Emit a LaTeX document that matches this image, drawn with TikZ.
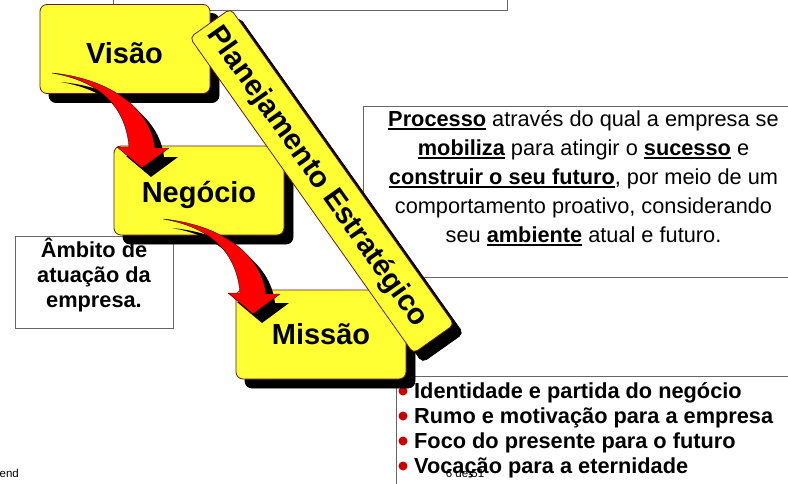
\documentclass[tikz,border=0pt]{standalone}
\usepackage{fontspec}
\setmainfont{Liberation Sans}
\definecolor{boxy}{HTML}{FFFF33}
\definecolor{boxedge}{HTML}{661A1A}
\definecolor{linegray}{HTML}{666666}
\definecolor{bulletred}{HTML}{CC0000}
\newsavebox\ulbox
\newcommand\ulb[1]{\sbox\ulbox{\bfseries #1}\leavevmode\rlap{\rule[-4.2pt]{\wd\ulbox}{2.4pt}}\usebox\ulbox}
\newcommand\swoosh[1]{%
  \begin{scope}[shift={(#1)}]
    \fill[black] (9,9) .. controls (62,14) and (107,41) .. (112,84) -- (126,84) -- (99,104) -- (74,83) -- (86,83) .. controls (82,36) and (49,16) .. (9,9) -- cycle;
    \draw[fill=red,draw=black,line width=.3pt] (0,0) .. controls (53,5) and (98,32) .. (103,75) -- (117,75) -- (90,95) -- (65,74) -- (77,74) .. controls (73,27) and (40,7) .. (0,0) -- cycle;
  \end{scope}}
\tikzset{
  x=1pt,y=-1pt,
  paper/.style={draw=linegray,line width=1pt,fill=white},
  card/.style={draw=boxedge,line width=.8pt,fill=boxy,rounded corners=7pt,minimum width=170pt,minimum height=89pt,inner sep=0pt},
  cardshadow/.style={card,draw=black,fill=black},
  banner/.style={draw=boxedge,line width=.8pt,fill=boxy,rounded corners=5pt,minimum width=387pt,minimum height=50pt,inner sep=0pt,rotate=-54.7},
  bannershadow/.style={banner,draw=black,fill=black},
  title/.style={font=\fontsize{29}{31}\selectfont\bfseries,anchor=base},
  bul/.style={circle,fill=bulletred,minimum size=9pt,inner sep=0pt},
  bultext/.style={font=\fontsize{21.75}{24}\selectfont\bfseries,anchor=base west,inner sep=0pt},
  foot/.style={font=\fontsize{11.5}{12}\selectfont,anchor=base,inner sep=0pt}
}
\begin{document}
\begin{tikzpicture}
\useasboundingbox (0,0) rectangle (788,483);
\clip (0,0) rectangle (788,483);
\fill[white] (0,0) rectangle (788,483);
% text panels
\draw[paper] (113,-5) rectangle (507,10);
\draw[paper] (363.5,106) rectangle (800,277);
\draw[paper] (396,376) rectangle (800,500);
\node[paper,minimum width=158pt,minimum height=92pt,inner sep=0pt] (ambitobox) at (94,282) {};
\node[font=\fontsize{21.75}{25}\selectfont\bfseries,align=center,anchor=base,inner sep=0pt] (ambito) at (94,307) {Âmbito de\\atuação da\\empresa.};
\node[font=\fontsize{21.75}{29}\selectfont,align=center,inner sep=0pt,anchor=base] (processo) at (583.5,242)
 {\ulb{Processo} através do qual a empresa se\\
  \ulb{mobiliza} para atingir o \ulb{sucesso} e\\
  \ulb{construir o seu futuro}, por meio de um\\
  comportamento proativo, considerando\\
  seu \ulb{ambiente} atual e futuro.};
% bullets
\node[bultext] (b1) at (414,398) {Identidade e partida do negócio};
\node[bultext] (b2) at (414,423) {Rumo e motivação para a empresa};
\node[bultext] (b3) at (414,448) {Foco do presente para o futuro};
\node[bultext] (b4) at (414,473) {Vocação para a eternidade};
\node[bul] (d1) at (403,391) {};
\node[bul] (d2) at (403,416) {};
\node[bul] (d3) at (403,441) {};
\node[bul] (d4) at (403,466) {};
\node[foot] (pg) at (465,477) {6 de 51};
\node[foot,anchor=base east] (endt) at (19,477) {end};
% cards
\node[cardshadow] (visaoS) at (134,58) {};
\node[card] (visaobox) at (125,49) {};
\node[title] (visao) at (124.5,63) {Visão};
\node[cardshadow] (negS) at (208,199.5) {};
\node[card] (negbox) at (199,190.5) {};
\node[title] (neg) at (199,202) {Negócio};
\node[cardshadow] (misS) at (330,343.5) {};
\node[card] (misbox) at (321,334.5) {};
\node[title] (mis) at (321,344) {Missão};
\swoosh{52,73}
\swoosh{163,219}
% banner
\node[bannershadow] (banS) at (331,190) {};
\node[banner] (ban) at (322,181) {};
\node[font=\fontsize{29.5}{31}\selectfont\bfseries,rotate=-54.7,inner sep=0pt] (bantext) at (317,177) {Planejamento Estratégico};
\end{tikzpicture}
\end{document}
